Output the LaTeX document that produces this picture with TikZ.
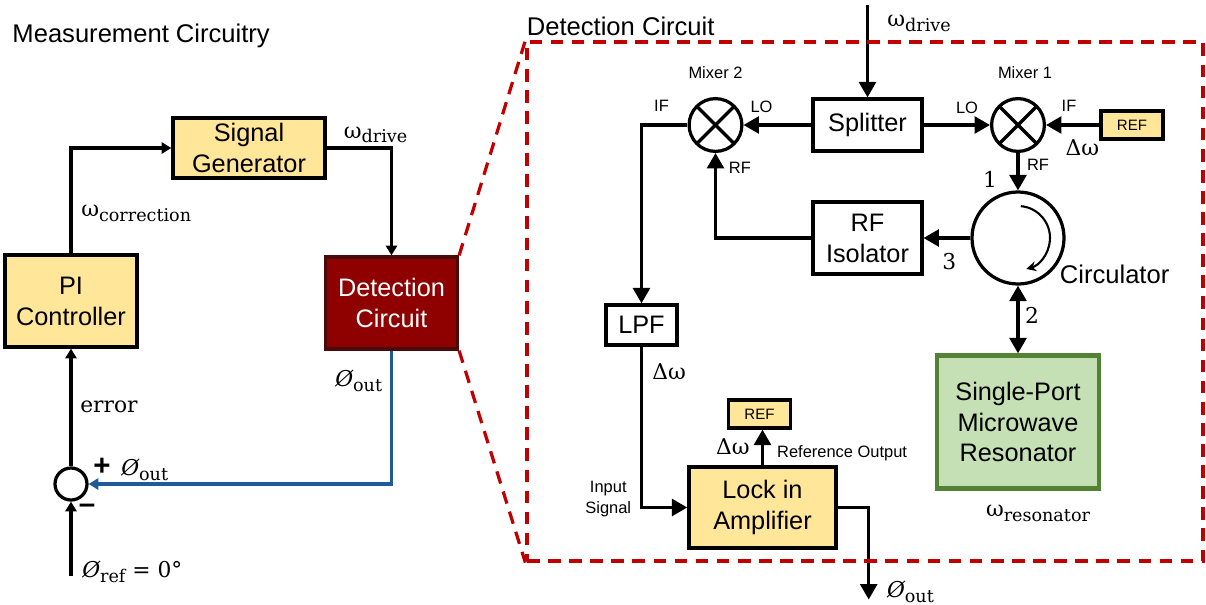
\documentclass[tikz,border=0pt]{standalone}
\usepackage{fontspec}
\setmainfont{Liberation Sans}
\newfontfamily\labelfont{DejaVu Serif}
\usetikzlibrary{positioning, calc, arrows.meta, shapes.geometric}
\definecolor{boxyellow}{HTML}{FFE699}
\definecolor{detred}{HTML}{8F0000}
\definecolor{detedge}{HTML}{4A0A0A}
\definecolor{zoomred}{HTML}{C00000}
\definecolor{fbblue}{HTML}{1F5C96}
\definecolor{resgreen}{HTML}{C5E0B4}
\definecolor{resedge}{HTML}{548235}
\newcommand{\subtxt}[1]{\raisebox{-0.22em}{\fontsize{12.5}{14}\selectfont #1}}
\newcommand{\sig}[2]{{\labelfont #1\subtxt{#2}}}
\newcommand{\phase}[1]{{\labelfont{\itshape Ø}\subtxt{#1}}}
\tikzstyle{whitebox} = [rectangle, text centered, draw=black, line width=2.3pt, inner sep=0pt, font=\fontsize{18}{22}\selectfont]
\tikzstyle{yellowbox} = [whitebox, fill=boxyellow]
\tikzstyle{refbox} = [yellowbox, font=\fontsize{10.7}{13}\selectfont, minimum width=1.55cm, minimum height=0.7cm]
\tikzstyle{detbox} = [whitebox, fill=detred, draw=detedge, text=white]
\tikzstyle{resbox} = [whitebox, fill=resgreen, draw=resedge, line width=3.2pt]
\tikzstyle{sumnode} = [circle, draw=black, line width=2.3pt, fill=white, inner sep=0pt, minimum size=0.8cm]
\tikzstyle{mixer} = [circle, draw=black, line width=2.3pt, inner sep=0pt, minimum size=1.32cm, path picture={
  \draw [line width=2.3pt] (path picture bounding box.north west) -- (path picture bounding box.south east);
  \draw [line width=2.3pt] (path picture bounding box.north east) -- (path picture bounding box.south west);}]
\tikzstyle{circulator} = [circle, draw=black, line width=2.3pt, inner sep=0pt, minimum size=2.3cm]
\tikzstyle{arrow} = [-{Triangle[length=11pt,width=12pt]}, line width=2.3pt]
\tikzstyle{arrowsmall} = [-{Triangle[length=7pt,width=8pt]}, line width=2.3pt]
\tikzstyle{dblarrow} = [{Triangle[length=11pt,width=12pt]}-{Triangle[length=11pt,width=12pt]}, line width=2.3pt]
\tikzstyle{bigtxt} = [inner sep=0pt, font=\fontsize{18.2}{22}\selectfont]
\tikzstyle{signtxt} = [inner sep=0pt, font=\fontsize{21}{22}\selectfont\bfseries]
\tikzstyle{smalltxt} = [inner sep=0pt, font=\fontsize{11.7}{15}\selectfont]
\tikzstyle{sigtxt} = [inner sep=0pt, font=\fontsize{15.5}{18}\selectfont]
\tikzstyle{zoomline} = [draw=zoomred, line width=2.3pt, dash pattern=on 9pt off 6pt]
\begin{document}
\begin{tikzpicture}[node distance=1cm, align=center]
  \useasboundingbox (0,0) rectangle (30.15,-15.125);
  % left loop
  \node (siggen) [yellowbox, minimum width=3.8cm, minimum height=1.5cm] at (6.225,-3.7) {Signal\\Generator};
  \node (pi) [yellowbox, minimum width=3.3cm, minimum height=2.3cm, below of=siggen, xshift=-4.45cm, yshift=-2.825cm] {PI\\Controller};
  \node (det) [detbox, minimum width=3.3cm, minimum height=2.3cm, below of=siggen, xshift=3.5625cm, yshift=-2.875cm] {Detection\\Circuit};
  \node (sum) [sumnode, below of=pi, yshift=-3.575cm] {};
  \coordinate (refin) at ($(sum.south) + (0,-1.85)$);

  % detection circuit
  \node (splitter) [whitebox, minimum width=2.72cm, minimum height=1.3cm, right of=siggen, xshift=14.4625cm, yshift=0.575cm] {Splitter};
  \node (mix2) [mixer, left of=splitter, xshift=-2.8cm] {};
  \node (mix1) [mixer, right of=splitter, xshift=2.7625cm] {};
  \node (ref1) [refbox, right of=mix1, xshift=1.85cm] {REF};
  \node (circ) [circulator, below of=mix1, yshift=-1.825cm] {};
  \node (iso) [whitebox, minimum width=2.72cm, minimum height=1.8cm, below of=splitter, yshift=-1.825cm] {RF\\Isolator};
  \node (lpf) [whitebox, minimum width=1.78cm, minimum height=1cm, below of=mix2, xshift=-1.85cm, yshift=-4cm] {LPF};
  \node (lock) [yellowbox, minimum width=3.68cm, minimum height=2.03cm, below of=mix2, xshift=1.175cm, yshift=-8.5625cm] {Lock in\\Amplifier};
  \node (ref2) [refbox, above of=lock, xshift=-0.075cm, yshift=1.3375cm] {REF};
  \node (res) [resbox, minimum width=4.05cm, minimum height=3.32cm, below of=circ, yshift=-3.6cm] {Single-Port\\Microwave\\Resonator};
  \coordinate (drivein) at ($(splitter.north) + (0,2.3)$);
  \coordinate (lockout) at ($(lock.east) + (0.775,-2.3)$);

  % left loop connectors
  \draw [arrowsmall](pi.north) |- (siggen.west);
  \draw [arrowsmall](siggen.east) -| (det.north);
  \draw [arrowsmall, draw=fbblue, {-{Triangle[length=7pt,width=8pt,fill=fbblue]}}](det.south) |- (sum.east);
  \draw [arrowsmall](sum.north) -- (pi.south);
  \draw [arrowsmall](refin) -- (sum.south);

  % detection circuit connectors
  \draw [arrow](drivein) -- (splitter.north);
  \draw [arrow](splitter.west) -- (mix2.east);
  \draw [arrow](splitter.east) -- (mix1.west);
  \draw [arrow](ref1.west) -- (mix1.east);
  \draw [arrow](mix1.south) -- (circ.north);
  \draw [arrow](circ.west) -- (iso.east);
  \draw [arrow](iso.west) -| (mix2.south);
  \draw [arrow](mix2.west) -| (lpf.north);
  \draw [arrow](lpf.south) |- (lock.west);
  \draw [arrow](lock.north) -- (lock.north |- ref2.south);
  \draw [arrow](lock.east) -| (lockout);
  \draw [dblarrow](circ.south) -- (res.north);
  \draw [-{Stealth[length=7pt,width=7pt]}, line width=1.5pt] ($(circ.center) + (85:0.8)$) arc (85:-75:0.8);

  % zoom frame
  \node (frame) [rectangle, zoomline, minimum width=16.9cm, minimum height=12.975cm, below of=splitter, xshift=-0.0625cm, yshift=-3.4125cm] {};
  \draw [zoomline](det.north east) -- (frame.north west);
  \draw [zoomline](det.south east) -- (frame.south west);

  % labels, left
  \node (titleleft) [bigtxt, anchor=west] at ($(siggen.north west) + (-3.98,2.02)$) {Measurement Circuitry};
  \node (drivelbl) [sigtxt, anchor=west] at ($(siggen.east) + (0.425,0.325)$) {\sig{ω}{drive}};
  \node (corrlbl) [sigtxt, anchor=west] at ($(pi.north) + (0.25,1)$) {\sig{ω}{correction}};
  \node (outlbl) [sigtxt, anchor=west] at ($(det.south) + (-1.4125,-0.75)$) {\phase{out}};
  \node (errlbl) [sigtxt, anchor=west] at ($(pi.south) + (0.225,-1.45)$) {\labelfont error};
  \node (pluslbl) [signtxt] at ($(sum.center) + (0.775,0.425)$) {+};
  \node (sumoutlbl) [sigtxt, anchor=west] at ($(sum.center) + (1.25,0.35)$) {\phase{out}};
  \node (minuslbl) [signtxt] at ($(sum.center) + (0.4,-0.625)$) {–};
  \node (reflbl) [sigtxt, anchor=west] at ($(sum.south) + (0.275,-1.75)$) {\phase{ref}{\labelfont\ = 0°}};

  % labels, detection circuit
  \node (titleright) [bigtxt, anchor=west] at ($(frame.north west) + (0.03,0.35)$) {Detection Circuit};
  \node (driveinlbl) [sigtxt, anchor=west] at ($(splitter.north) + (0.49,1.85)$) {\sig{ω}{drive}};
  \node (mix2name) [smalltxt] at ($(mix2.north) + (0,0.6)$) {Mixer 2};
  \node (mix1name) [smalltxt] at ($(mix1.north) + (0.175,0.6)$) {Mixer 1};
  \node (if2) [smalltxt] at ($(mix2.west) + (-0.65,0.49)$) {IF};
  \node (lo2) [smalltxt] at ($(mix2.east) + (0.45,0.45)$) {LO};
  \node (rf2) [smalltxt] at ($(mix2.south) + (0.61,-0.375)$) {RF};
  \node (lo1) [smalltxt] at ($(mix1.west) + (-0.575,0.425)$) {LO};
  \node (if1) [smalltxt] at ($(mix1.east) + (0.575,0.475)$) {IF};
  \node (rf1) [smalltxt] at ($(mix1.south) + (0.5,-0.3)$) {RF};
  \node (dw1) [sigtxt] at ($(ref1.west) + (-0.425,-0.575)$) {\labelfont Δω};
  \node (port1) [sigtxt] at ($(circ.north) + (-0.7,0.275)$) {\labelfont 1};
  \node (port3) [sigtxt] at ($(circ.west) + (-0.525,-0.6)$) {\labelfont 3};
  \node (port2) [sigtxt] at ($(circ.south) + (0.35,-0.75)$) {\labelfont 2};
  \node (circname) [bigtxt] at ($(circ.east) + (1.225,-0.9)$) {Circulator};
  \node (reslbl) [sigtxt] at ($(res.south) + (0.5,-0.575)$) {\sig{ω}{resonator}};
  \node (dw2) [sigtxt] at ($(lpf.south) + (0.69,-0.625)$) {\labelfont Δω};
  \node (dw3) [sigtxt] at ($(lock.north) + (-0.74,0.475)$) {\labelfont Δω};
  \node (refoutlbl) [smalltxt] at ($(lock.north) + (1.99,0.3)$) {Reference Output};
  \node (inputlbl) [smalltxt] at ($(lock.west) + (-1.975,0.2125)$) {Input\\Signal};
  \node (lockoutlbl) [sigtxt, anchor=west] at ($(lockout) + (0.45,0.2)$) {\phase{out}};
\end{tikzpicture}
\end{document}
